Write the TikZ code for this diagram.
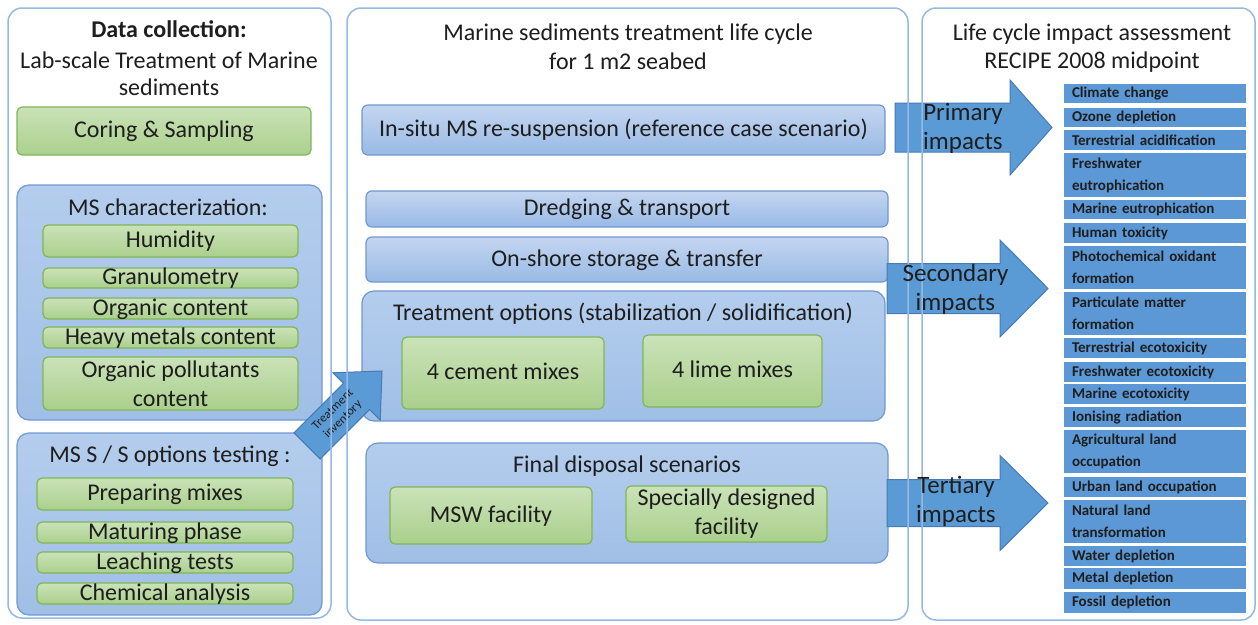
\documentclass[tikz,border=0pt]{standalone}
\usepackage{fontspec}
\setmainfont{Carlito}
\usepackage{tikz}
\usetikzlibrary{positioning}

\definecolor{panelline}{RGB}{150,185,225}
\definecolor{greentop}{RGB}{202,226,184}
\definecolor{greenbot}{RGB}{170,208,140}
\definecolor{greenline}{RGB}{128,182,86}
\definecolor{bartop}{RGB}{196,214,240}
\definecolor{barbot}{RGB}{152,186,229}
\definecolor{boxtop}{RGB}{180,205,237}
\definecolor{boxbot}{RGB}{160,191,230}
\definecolor{blueline}{RGB}{112,152,210}
\definecolor{arrowblue}{RGB}{91,155,213}
\definecolor{arrowline}{RGB}{72,122,180}
\definecolor{listblue}{RGB}{91,152,213}
\definecolor{inktext}{RGB}{30,30,30}

\newcommand{\bigtxt}{\fontsize{24}{29}\selectfont}
\newcommand{\listtxt}{\fontsize{15}{22}\selectfont\bfseries}
\newcommand{\tinytxt}{\fontsize{12.5}{14}\selectfont}

\begin{document}
\begin{tikzpicture}[x=1pt, y=-1pt,
  panel/.style={draw=panelline, line width=1.5pt, rounded corners=14pt, inner sep=0pt},
  greenbox/.style={draw=greenline, line width=1.2pt, rounded corners=5pt, top color=greentop, bottom color=greenbot, text=inktext, font=\bigtxt, align=center, inner sep=0pt},
  oneline/.style={text height=16.5pt, text depth=3.3pt},
  bluebox/.style={draw=blueline, line width=1.2pt, rounded corners=12pt, top color=boxtop, bottom color=boxbot, inner sep=0pt},
  bluebar/.style={draw=blueline, line width=1.2pt, rounded corners=6pt, top color=bartop, bottom color=barbot, text=inktext, font=\bigtxt, inner sep=0pt},
  headtxt/.style={font=\bigtxt, text=inktext, anchor=base, inner sep=0pt},
  arrowshape/.style={fill=arrowblue, draw=arrowline, line width=1pt, line join=miter},
  impactlbl/.style={font=\fontsize{25}{29}\selectfont, text=inktext, align=center, inner sep=0pt},
  listrow/.style={fill=listblue, minimum width=182, text width=166pt, inner xsep=8pt, inner ysep=0pt, align=left, font=\listtxt, text=inktext}
]

 \path[use as bounding box, fill=white] (0,0) rectangle (1258,624);

 %column 1: data collection
 \node[headtxt, font=\bigtxt\bfseries] (dctitle) at (169,37) {Data collection:};
 \node[headtxt] (dcsub) at (169,68) {Lab-scale Treatment of Marine};
 \node[headtxt] (dcsub2) at (169,95) {sediments};

 \node[greenbox, oneline, minimum width=294, minimum height=48] (coring) at (164,131) {Coring \& Sampling};

 %MS characterization
 \def\cx{170.5}
 \node[bluebox, minimum width=305, minimum height=235] (mschar) at (169.5,302.5) {};
 \node[headtxt] (mschartitle) at (168,215) {MS characterization:};
 \foreach \name/\y/\h/\txt in {hum/241/32/Humidity, gran/278/20/Granulometry, orgc/308.5/21/{Organic content}, heavy/337.5/21/{Heavy metals content}} {
   \node[greenbox, oneline, minimum width=255, minimum height=\h] (\name) at (\cx,\y) {\txt};
 }
 \node[greenbox, minimum width=255, minimum height=53] (orgp) at (\cx,383.5) {Organic pollutants\\content};

 %MS S/S options testing
 \def\cx{165}
 \node[bluebox, minimum width=305, minimum height=182] (msss) at (169.5,524) {};
 \node[headtxt] (mssstitle) at (170,462) {MS S / S options testing :};
 \foreach \name/\y/\h/\txt in {prep/494/32/{Preparing mixes}, mat/532.5/21/{Maturing phase}, leach/562.5/21/{Leaching tests}, chem/593.5/21/{Chemical analysis}} {
   \node[greenbox, oneline, minimum width=256, minimum height=\h] (\name) at (\cx,\y) {\txt};
 }

 %column 2: life cycle
 \node[headtxt] (lctitle) at (628,40) {Marine sediments treatment life cycle};
 \node[headtxt] (lctitle2) at (628,69) {for 1 m2 seabed};

 \node[bluebar, oneline, minimum width=523, minimum height=50] (insitu) at (623.5,130) {In-situ MS re-suspension (reference case scenario)};
 \node[bluebar, oneline, minimum width=522, minimum height=36] (dredge) at (627,209) {Dredging \& transport};
 \node[bluebar, oneline, minimum width=522, minimum height=45] (onshore) at (627,259.5) {On-shore storage \& transfer};

 \node[bluebox, minimum width=523, minimum height=130] (treat) at (623.5,356) {};
 \node[headtxt] (treattitle) at (623,320) {Treatment options (stabilization / solidification)};
 \node[greenbox, oneline, minimum width=202, minimum height=72] (cement) at (503,373) {4 cement mixes};
 \node[greenbox, oneline, minimum width=179, minimum height=72] (lime) at (732.5,371) {4 lime mixes};

 \node[bluebox, minimum width=522, minimum height=120] (final) at (627,503) {};
 \node[headtxt] (finaltitle) at (627,472) {Final disposal scenarios};
 \node[greenbox, oneline, minimum width=202, minimum height=57] (msw) at (491,515.5) {MSW facility};
 \node[greenbox, minimum width=201, minimum height=56] (special) at (726.5,514) {Specially designed\\facility};

 %column 3: impact assessment
 \node[headtxt] (iatitle) at (1092,40) {Life cycle impact assessment};
 \node[headtxt] (iatitle2) at (1092,68) {RECIPE 2008 midpoint};

 \foreach \i/\y/\h/\txt in {
   1/93.5/19/{Climate change},
   2/117.5/19/{Ozone depletion},
   3/140/20/{Terrestrial acidification},
   4/175/44/{Freshwater\\eutrophication},
   5/209.5/19/{Marine eutrophication},
   6/233/20/{Human toxicity},
   7/267.5/43/{Photochemical oxidant\\formation},
   8/313.5/43/{Particulate matter\\formation},
   9/348/20/{Terrestrial ecotoxicity},
   10/372/20/{Freshwater ecotoxicity},
   11/394/20/{Marine ecotoxicity},
   12/417/20/{Ionising radiation},
   13/451.5/43/{Agricultural land\\occupation},
   14/487/20/{Urban land occupation},
   15/521.5/43/{Natural land\\transformation},
   16/556/20/{Water depletion},
   17/578.5/21/{Metal depletion},
   18/602.5/21/{Fossil depletion}} {
   \node[listrow, minimum height=\h] (I\i) at (1155,\y) {\txt};
 }

 %arrows
 \foreach \ym/\xa/\hs/\xb/\hh/\xt in {127.5/895/24.5/1010/47.5/1052, 288.5/887/25/1000/48.5/1048, 503/887/23.5/1000/47.5/1048} {
   \draw[arrowshape] (\xa,\ym-\hs) -- (\xb,\ym-\hs) -- (\xb,\ym-\hh) -- (\xt,\ym) -- (\xb,\ym+\hh) -- (\xb,\ym+\hs) -- (\xa,\ym+\hs) -- cycle;
 }

 \begin{scope}[shift={(382,371)}, rotate=45]
   \draw[arrowshape] (-106,-18.5) -- (-36,-18.5) -- (-36,-33.5) -- (0,0) -- (-36,33.5) -- (-36,18.5) -- (-106,18.5) -- cycle;
   \node[rotate=45, font=\tinytxt, align=center, text=inktext, inner sep=0pt] (invlbl) at (-62,0) {Treatment\\inventory};
 \end{scope}

 %panels
 \node[panel, minimum width=323, minimum height=610] (colA) at (169.5,313) {};
 \node[panel, minimum width=561, minimum height=612] (colB) at (627.5,314) {};
 \node[panel, minimum width=333, minimum height=612] (colC) at (1088.5,314) {};

 \node[impactlbl] (primlbl) at (963,128) {Primary\\impacts};
 \node[impactlbl] (seclbl) at (955.5,289) {Secondary\\impacts};
 \node[impactlbl] (terlbl) at (956,501) {Tertiary\\impacts};

\end{tikzpicture}
\end{document}
